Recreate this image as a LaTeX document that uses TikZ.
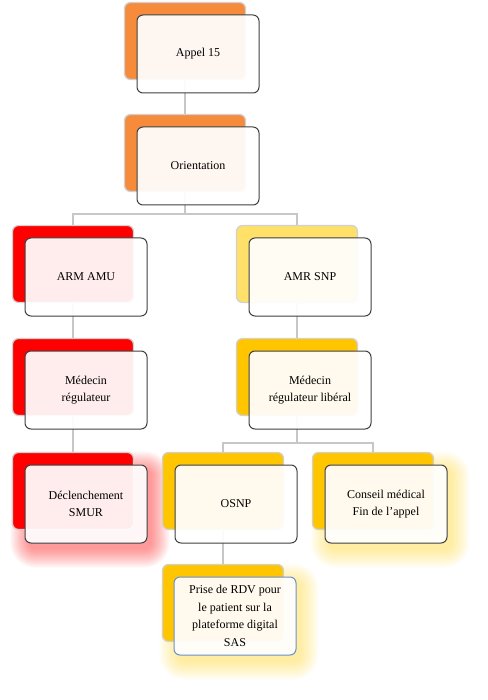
\documentclass[tikz,border=0pt]{standalone}
\usepackage{fontspec}
\setmainfont{Liberation Serif}
\usetikzlibrary{positioning,backgrounds}
\definecolor{orangeA}{HTML}{F68B3C}
\definecolor{redA}{HTML}{FF0000}
\definecolor{yellowA}{HTML}{FFE16A}
\definecolor{goldA}{HTML}{FFC600}
\definecolor{glowY}{HTML}{FFD21A}
\definecolor{blueA}{HTML}{6A90CC}
\begin{document}
\begin{tikzpicture}[x=1pt,y=-1pt,
  font=\fontsize{12}{17.5}\selectfont,
  back/.style={draw=black!18,line width=1.3pt,rounded corners=6pt,minimum width=121pt,minimum height=77pt,inner sep=0pt},
  card/.style={draw=black!75,line width=1pt,rounded corners=6pt,fill=white,fill opacity=0.93,text opacity=1,
    minimum width=122pt,minimum height=78pt,align=center,inner sep=2pt},
  link/.style={draw=black!22,line width=2pt}]
\useasboundingbox (0,0) rectangle (487,700);
% back boxes
\node[back,fill=orangeA] (appel)   at (185,41)  {};
\node[back,fill=orangeA] (orient)  at (185,153) {};
\node[back,fill=redA]    (arm)     at (73,264)  {};
\node[back,fill=yellowA] (amr)     at (297,264) {};
\node[back,fill=redA]    (medreg)  at (73,377)  {};
\node[back,fill=goldA]   (medlib)  at (297,377) {};
\node[back,fill=redA]    (smur)    at (73,491)  {};
\node[back,fill=goldA]   (osnp)    at (223,491) {};
\node[back,fill=goldA]   (conseil) at (373,491) {};
\node[back,fill=goldA]   (rdv)     at (223,603) {};
% front cards
\node[card] (appel-t)   at ([shift={(13,13)}]appel.center)   {Appel 15};
\node[card] (orient-t)  at ([shift={(13,13)}]orient.center)  {Orientation};
\node[card] (arm-t)     at ([shift={(13,13)}]arm.center)     {ARM AMU};
\node[card] (amr-t)     at ([shift={(13,13)}]amr.center)     {AMR SNP};
\node[card] (medreg-t)  at ([shift={(13,13)}]medreg.center)  {Médecin\\régulateur};
\node[card] (medlib-t)  at ([shift={(13,13)}]medlib.center)  {Médecin\\régulateur libéral};
\node[card] (smur-t)    at ([shift={(13,13)}]smur.center)    {Déclenchement\\SMUR};
\node[card] (osnp-t)    at ([shift={(13,13)}]osnp.center)    {OSNP};
\node[card] (conseil-t) at ([shift={(13,13)}]conseil.center) {Conseil médical\\Fin de l’appel};
\node[card,draw=blueA] (rdv-t) at ([shift={(12,13)}]rdv.center) {Prise de RDV pour\\le patient sur la\\plateforme digital\\SAS};
\begin{scope}[on background layer]
% soft glows
\foreach \n/\c in {smur-t/redA,conseil-t/glowY,rdv-t/glowY}
  \foreach \k in {1,...,16}
    \fill[\c,fill opacity=0.03,rounded corners=6pt+\k*1.2pt]
      ([shift={(-\k*1.2+5,-\k*1.2+6)}]\n.north west) rectangle ([shift={(\k*1.2+3,\k*1.2+5)}]\n.south east);
% connectors
\draw[link] (appel.south) -- (orient.north);
\draw[link] (orient.south) -- ++(0,22) -| (arm.north);
\draw[link] (orient.south) -- ++(0,22) -| (amr.north);
\draw[link] (arm.south) -- (medreg.north);
\draw[link] (amr.south) -- (medlib.north);
\draw[link] (medreg.south) -- (smur.north);
\draw[link] (medlib.south) -- ++(0,27) -| (osnp.north);
\draw[link] (medlib.south) -- ++(0,27) -| (conseil.north);
\draw[link] (osnp.south) -- (rdv.north);
\end{scope}
\end{tikzpicture}
\end{document}
